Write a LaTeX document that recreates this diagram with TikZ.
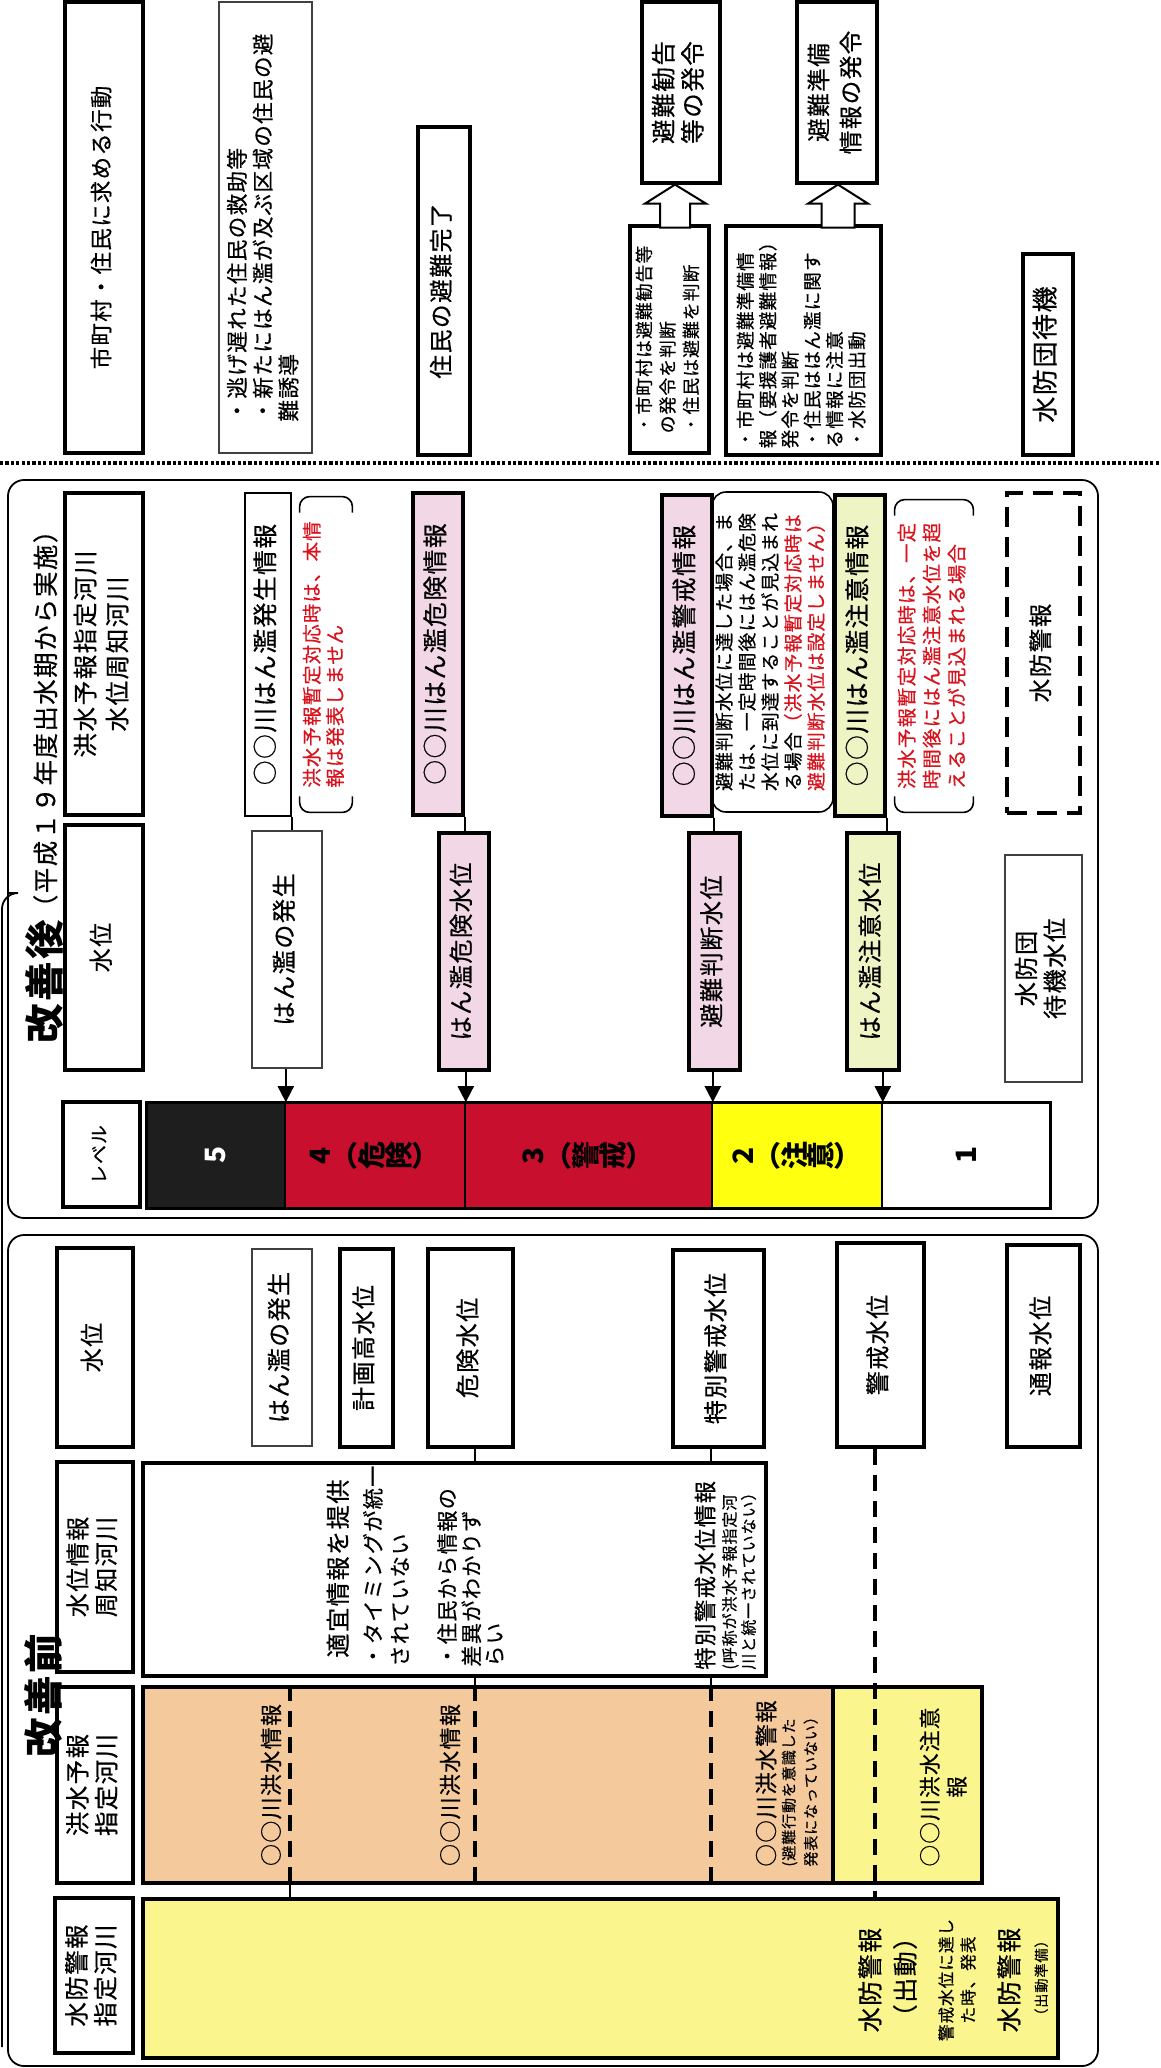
\documentclass[tikz,border=0pt]{standalone}
\usepackage{fontspec}
\setmainfont{Noto Sans CJK JP}[LetterSpace=6, UprightFeatures={FakeBold=0.5}]
\usetikzlibrary{arrows.meta,calc}

\definecolor{kikenred}{HTML}{C8102E}
\definecolor{keikaipink}{HTML}{F2D8E6}
\definecolor{chuuigreen}{HTML}{EEF4C4}
\definecolor{lvyellow}{HTML}{FFFF10}
\definecolor{lvblack}{HTML}{1E1E1E}
\definecolor{yohoorange}{HTML}{F4C99B}
\definecolor{suiboyellow}{HTML}{FAF58C}
\definecolor{notered}{HTML}{D7141E}

\newcommand\fsz[2]{\fontsize{#1}{#2}\selectfont}
\newcommand\vtext[2][c]{\rotatebox{90}{\begin{tabular}{@{}#1@{}}#2\end{tabular}}}
\newcommand\rgl[1]{\rotatebox[origin=c]{90}{#1}}
\newcommand\notebrk[1]{%
  \draw[brkline] ([yshift=-8pt]#1.north west) -- (#1.north west) -- (#1.north east) -- ([yshift=-8pt]#1.north east);
  \draw[brkline] ([yshift=8pt]#1.south west) -- (#1.south west) -- (#1.south east) -- ([yshift=8pt]#1.south east);}

\tikzset{
  spot/.style n args={4}{minimum width={(#3-#1)*0.5pt}, minimum height={(#4-#2)*0.5pt}, at={({(#1+#3)/2},{(#2+#4)/2})}},
  bx/.style={draw, line width=1.6pt, inner sep=0pt},
  thinbx/.style={draw=black!75, line width=0.6pt, inner sep=0pt},
  lvcell/.style={draw, line width=0.8pt, inner sep=0pt, font=\bfseries\fsz{14}{16}},
  tie/.style={line width=1pt},
  lvarrow/.style={line width=1pt, -{Triangle[width=8pt,length=8pt]}},
  dashln/.style={line width=2pt, dash pattern=on 8pt off 5pt},
  hollow/.style={draw, line width=1pt, fill=white},
  frame/.style={line width=0.9pt, rounded corners=8pt},
  brkline/.style={line width=0.8pt, rounded corners=5pt},
  sepline/.style={line width=1.6pt, dash pattern=on 1.6pt off 1.1pt},
}

\begin{document}
\begin{tikzpicture}[x=0.5pt, y=-0.5pt]
\useasboundingbox (0,0) rectangle (1161,2068);

\node[bx, font=\fsz{11.2}{13}, spot={65}{2}{143}{453}] (act) {\vtext{市町村・住民に求める行動}};
\node[thinbx, font=\fsz{10.8}{12.5}, spot={219}{2}{312}{453}] (rescue) {\vtext[l]{・逃げ遅れた住民の救助等\\・新たにはん濫が及ぶ区域の住民の避\\難誘導}};
\node[bx, font=\fsz{11.9}{14}, spot={418}{127}{470}{455}] (done) {\vtext{住民の避難完了}};
\node[bx, font=\fsz{12.3}{14}, spot={642}{2}{720}{183}] (orderA) {\vtext{避難勧告\\等の発令}};
\node[bx, font=\fsz{8.9}{11.75}, spot={630}{226}{709}{453}] (judgeA) {\vtext[l]{・市町村は避難勧告等\\の発令を判断\\・住民は避難を判断}};
\node[bx, font=\fsz{11.8}{16}, spot={797}{2}{877}{183}] (orderB) {\vtext{避難準備\\情報の発令}};
\node[bx, font=\fsz{9.3}{11}, spot={726}{226}{881}{455}] (judgeB) {\vtext[l]{・市町村は避難準備情\\報（要援護者避難情報）\\発令を判断\\・住民ははん濫に関す\\る情報に注意\\・水防団出動}};
\node[bx, font=\fsz{13}{15}, spot={1023}{254}{1073}{455}] (standby) {\vtext{水防団待機}};
\draw[hollow] ($(orderA.south)+(-6,0)$) -- ++(31,19) -- ++(-16,0) -- ++(0,24) -- ++(-30,0) -- ++(0,-24) -- ++(-15,0) -- cycle;
\draw[hollow] ($(orderB.south)+(1,0)$) -- ++(30,19) -- ++(-13.5,0) -- ++(0,24) -- ++(-33,0) -- ++(0,-24) -- ++(-13.5,0) -- cycle;
\draw[sepline] (0,463) -- (1161,463);

\draw[frame] (8,480) rectangle (1098,1218);
\node[anchor=south, inner sep=0pt] (titleA) at (44,1044) {\rotatebox{90}{{\bfseries\fsz{19.8}{22}改善後}\raisebox{2pt}{\fsz{12.7}{14}（平成１９年度出水期から実施）}}};
\node[bx, font=\fsz{12.3}{16}, spot={65}{493}{143}{815}] (hdRiverA) {\vtext{洪水予報指定河川\\水位周知河川}};
\node[bx, font=\fsz{12}{14}, spot={65}{825}{143}{1070}] (hdLevelA) {\vtext{水位}};
\node[bx, font=\fsz{9.4}{11}, spot={63}{1102}{140}{1207}] (hdStage) {\vtext{レベル}};

\node[bx, line width=1.1pt, font=\fsz{12.4}{14}, spot={245}{493}{291}{816}] (infoOcc) {\vtext{○○川はん濫発生情報}};
\node[inner sep=0pt, text=notered, font=\fsz{9.7}{11.5}, spot={300}{497}{352}{812}] (noteOcc) {\vtext[l]{洪水予報暫定対応時は、本情\\報は発表しません}};
\node[bx, fill=keikaipink, font=\fsz{12.4}{14}, spot={413}{493}{463}{815}] (infoDan) {\vtext{○○川はん濫危険情報}};
\node[bx, fill=keikaipink, font=\fsz{12.4}{14}, spot={662}{495}{712}{816}] (infoEva) {\vtext{○○川はん濫警戒情報}};
\node[draw, line width=0.8pt, rounded corners=7pt, inner sep=0pt, font=\fsz{9.4}{11.5}, spot={712}{492}{833}{812}] (condEva) {\vtext[l]{避難判断水位に達した場合、ま\\たは、一定時間後にはん濫危険\\水位に到達することが見込まれ\\る場合\textcolor{notered}{（洪水予報暫定対応時は}\\\textcolor{notered}{避難判断水位は設定しません）}}};
\node[bx, fill=chuuigreen, font=\fsz{12.4}{14}, spot={835}{495}{885}{816}] (infoCau) {\vtext{○○川はん濫注意情報}};
\node[inner sep=0pt, text=notered, font=\fsz{9.7}{12.5}, spot={895}{500}{973}{812}] (noteCau) {\vtext[l]{洪水予報暫定対応時は、一定\\時間後にはん濫注意水位を超\\えることが見込まれる場合}};
\node[draw, line width=2pt, dash pattern=on 10pt off 5pt, inner sep=0pt, font=\fsz{11.8}{14}, spot={1007}{493}{1080}{813}] (alarmA) {\vtext{水防警報}};
\notebrk{noteOcc}
\notebrk{noteCau}

\node[thinbx, font=\fsz{12.1}{14}, spot={252}{831}{322}{1068}] (levOccA) {\vtext{はん濫の発生}};
\node[bx, fill=keikaipink, font=\fsz{12.1}{14}, spot={439}{833}{489}{1070}] (levDanA) {\vtext{はん濫危険水位}};
\node[bx, fill=keikaipink, font=\fsz{12.1}{14}, spot={689}{833}{740}{1070}] (levEvaA) {\vtext{避難判断水位}};
\node[bx, fill=chuuigreen, font=\fsz{12.1}{14}, spot={847}{833}{899}{1070}] (levCauA) {\vtext{はん濫注意水位}};
\node[thinbx, font=\fsz{12.1}{14}, spot={1005}{855}{1082}{1082}] (levStbA) {\vtext{水防団\\待機水位}};

\node[lvcell, fill=lvblack, text=white, spot={147}{1103}{285}{1208}] (lv5) {\rgl{5}};
\node[lvcell, fill=kikenred, spot={285}{1103}{465}{1208}] (lv4) {\rgl{4}（\rgl{危}\rgl{険}）};
\node[lvcell, fill=kikenred, spot={465}{1103}{712}{1208}] (lv3) {\rgl{3}（\rgl{警}\rgl{戒}）};
\node[lvcell, fill=lvyellow, spot={712}{1103}{882}{1208}] (lv2) {\rgl{2}（\rgl{注}\rgl{意}）};
\node[lvcell, fill=white, spot={882}{1103}{1050}{1208}] (lv1) {\rgl{1}};
\draw[line width=1.6pt] (lv5.north west) rectangle (lv1.south east);

\draw[tie] (infoOcc.south east) -- (infoOcc.south east |- levOccA.north);
\draw[tie] (infoDan.south east) -- (infoDan.south east |- levDanA.north);
\draw[tie] (infoEva.south east) -- (infoEva.south east |- levEvaA.north);
\draw[tie] (infoCau.south east) -- (infoCau.south east |- levCauA.north);
\draw[lvarrow] (levOccA.south -| lv5.north east) -- (lv5.north east);
\draw[lvarrow] (levDanA.south -| lv4.north east) -- (lv4.north east);
\draw[lvarrow] (levEvaA.south -| lv3.north east) -- (lv3.north east);
\draw[lvarrow] (levCauA.south -| lv2.north east) -- (lv2.north east);

\draw[frame] (8,1235) rectangle (1098,2066);
\draw[frame] (7,893) -- (2,893) -- (2,2047);
\node[anchor=south, inner sep=0pt] (titleB) at (43,1758) {\rotatebox{90}{\bfseries\fsz{19.8}{22}改善前}};
\node[bx, font=\fsz{12}{14}, spot={57}{1248}{133}{1447}] (hdLevelB) {\vtext{水位}};
\node[bx, font=\fsz{12}{14}, spot={57}{1462}{133}{1672}] (hdInfoB) {\vtext{水位情報\\周知河川}};
\node[bx, font=\fsz{12.2}{14}, spot={57}{1687}{133}{1883}] (hdFcB) {\vtext{洪水予報\\指定河川}};
\node[bx, font=\fsz{12.2}{14}, spot={55}{1898}{133}{2053}] (hdWpB) {\vtext{水防警報\\指定河川}};

\node[thinbx, font=\fsz{12}{14}, spot={252}{1249}{312}{1446}] (levOccB) {\vtext{はん濫の発生}};
\node[bx, font=\fsz{12}{14}, spot={340}{1249}{393}{1447}] (levPlanB) {\vtext{計画高水位}};
\node[bx, font=\fsz{12}{14}, spot={428}{1249}{513}{1447}] (levDanB) {\vtext{危険水位}};
\node[bx, font=\fsz{12}{14}, spot={673}{1250}{764}{1447}] (levSpB) {\vtext{特別警戒水位}};
\node[bx, font=\fsz{12}{14}, spot={837}{1243}{924}{1447}] (levWarnB) {\vtext{警戒水位}};
\node[bx, font=\fsz{12}{14}, spot={1007}{1245}{1080}{1447}] (levRepB) {\vtext{通報水位}};

\node[bx, fill=white, spot={143}{1463}{766}{1676}] (infoB) {};
\node[anchor=south, inner sep=0pt, font=\fsz{12.1}{14}] (infoNote0) at (341,1658) {\vtext{適宜情報を提供}};
\node[anchor=south, inner sep=0pt, font=\fsz{10.6}{13.5}] (infoNote1) at (389,1667) {\vtext[l]{・タイミングが統一\\されていない}};
\node[anchor=south, inner sep=0pt, font=\fsz{10.6}{10.6}] (infoNote2) at (473,1667) {\vtext[l]{・住民から情報の\\差異がわかりず\\らい}};
\node[anchor=south, inner sep=0pt, font=\fsz{11.2}{13}] (spTitle) at (708,1670) {\vtext{特別警戒水位情報}};
\node[anchor=south, inner sep=0pt, font=\fsz{8}{9}] (spSub) at (741,1670) {\vtext[l]{(呼称が洪水予報指定河\\川と統一されていない）}};

\node[bx, fill=yohoorange, spot={143}{1687}{833}{1883}] (fcB) {};
\node[bx, fill=suiboyellow, spot={833}{1687}{982}{1883}] (fcB2) {};
\node[inner sep=0pt, font=\fsz{11}{13}] (fcInfo1) at (274,1785) {\vtext{○○川洪水情報}};
\node[inner sep=0pt, font=\fsz{11}{13}] (fcInfo2) at (453,1785) {\vtext{○○川洪水情報}};
\node[anchor=south, inner sep=0pt, font=\fsz{11.3}{13}] (fcWarn) at (769,1867) {\vtext{○○川洪水警報}};
\node[anchor=south, inner sep=0pt, font=\fsz{7.5}{11}] (fcWarnSub) at (801,1867) {\vtext[l]{(避難行動を意識した\\発表になっていない）}};
\node[inner sep=0pt, font=\fsz{10.8}{13.5}] (fcCaution) at (946,1787) {\vtext{○○川洪水注意\\報}};

\node[bx, fill=suiboyellow, spot={143}{1899}{1058}{2058}] (wpB) {};
\node[inner sep=0pt, font=\fsz{12.5}{14}] (wpText1) at (873,1980) {\vtext{水防警報}};
\node[inner sep=0pt, font=\fsz{12.5}{14}] (wpText2) at (908,1977) {\vtext{（出動）}};
\node[inner sep=0pt, font=\fsz{8.3}{11}] (wpText3) at (959,1980) {\vtext{警戒水位に達し\\た時、発表}};
\node[inner sep=0pt, font=\fsz{12.5}{14}] (wpText4) at (1012,1980) {\vtext{水防警報}};
\node[inner sep=0pt, font=\fsz{7.1}{9}] (wpText5) at (1043,1978) {\vtext{（出動準備）}};

\coordinate (ocx) at (290,0);
\coordinate (dnx) at (475,0);
\coordinate (spx) at (711,0);
\coordinate (wnx) at (875,0);
\draw[tie] (levDanB.south -| dnx) -- (infoB.north -| dnx);
\draw[tie] (levSpB.south -| spx) -- (infoB.north -| spx);
\draw[tie] (infoB.south -| dnx) -- (fcB.north -| dnx);
\draw[tie] (infoB.south -| spx) -- (fcB.north -| spx);
\draw[dashln] (fcB.north -| ocx) -- (fcB.south -| ocx);
\draw[dashln] (fcB.north -| dnx) -- (fcB.south -| dnx);
\draw[dashln] (fcB.north -| spx) -- (fcB.south -| spx);
\draw[tie] (fcB.south -| ocx) -- (wpB.north -| ocx);
\draw[dashln] (levWarnB.south -| wnx) -- (wpB.north -| wnx);
\end{tikzpicture}
\end{document}
